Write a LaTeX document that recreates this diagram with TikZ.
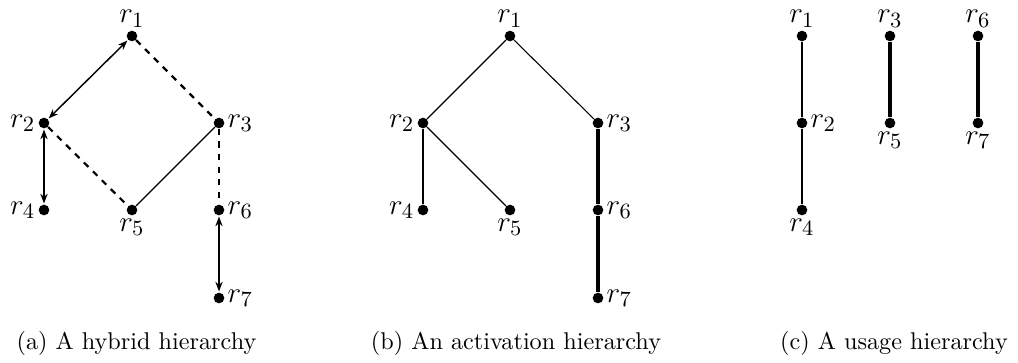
\documentclass[tikz,border=0pt]{standalone}
\usetikzlibrary{arrows.meta}
\begin{document}
\begin{tikzpicture}[x=0.413pt,y=-0.413pt,
  vtx/.style={circle,fill=black,inner sep=0pt,minimum size=4.4pt},
  every label/.style={inner sep=1pt,font=\fontsize{12.8}{15}\selectfont},
  label distance=0pt,
  thinedge/.style={line width=0.45pt},
  midedge/.style={line width=0.9pt},
  thickedge/.style={line width=1.5pt},
  dashedge/.style={line width=0.9pt,dash pattern=on 2.6pt off 2.6pt},
  dbl/.style={{Stealth[length=4pt,width=3pt]}-{Stealth[length=4pt,width=3pt]}, shorten <=0.3pt, shorten >=0.3pt},
  captext/.style={inner sep=0pt, anchor=base}]
\useasboundingbox (0,0) rectangle (1018,362);
% (a)
\node[vtx,label=above:$r_1$] (a1) at (132,36) {};
\node[vtx,label=left:$r_2$]  (a2) at (44,123) {};
\node[vtx,label=right:$r_3$] (a3) at (219,123) {};
\node[vtx,label=left:$r_4$]  (a4) at (44,210) {};
\node[vtx,label=below:$r_5$] (a5) at (132,210) {};
\node[vtx,label=right:$r_6$] (a6) at (219,210) {};
\node[vtx,label=right:$r_7$] (a7) at (219,298) {};
\draw[line width=0.6pt,dbl] (a1) -- (a2);
\draw[midedge,dbl] (a2) -- (a4);
\draw[line width=1.1pt,dbl] (a6) -- (a7);
\draw[dashedge] (a1) -- (a3);
\draw[dashedge] (a2) -- (a5);
\draw[dashedge] (a3) -- (a6);
\draw[thinedge] (a3) -- (a5);
\node[captext] (capa) at (136.5,349) {(a) A hybrid hierarchy};
% (b)
\node[vtx,label=above:$r_1$] (b1) at (510,36) {};
\node[vtx,label=left:$r_2$]  (b2) at (423,123) {};
\node[vtx,label=right:$r_3$] (b3) at (598,123) {};
\node[vtx,label=left:$r_4$]  (b4) at (423,210) {};
\node[vtx,label=below:$r_5$] (b5) at (510,210) {};
\node[vtx,label=right:$r_6$] (b6) at (598,210) {};
\node[vtx,label=right:$r_7$] (b7) at (598,298) {};
\draw[thinedge] (b1) -- (b2);
\draw[thinedge] (b1) -- (b3);
\draw[thinedge] (b2) -- (b5);
\draw[midedge] (b2) -- (b4);
\draw[thickedge] (b3) -- (b6) -- (b7);
\node[captext] (capb) at (516,349) {(b) An activation hierarchy};
% (c)
\node[vtx,label=above:$r_1$] (c1) at (802,36) {};
\node[vtx,label=right:$r_2$] (c2) at (802,123) {};
\node[vtx,label=below:$r_4$] (c4) at (802,210) {};
\node[vtx,label=above:$r_3$] (c3) at (890,36) {};
\node[vtx,label=below:$r_5$] (c5) at (890,123) {};
\node[vtx,label=above:$r_6$] (c6) at (978,36) {};
\node[vtx,label=below:$r_7$] (c7) at (978,123) {};
\draw[midedge] (c1) -- (c2) -- (c4);
\draw[line width=1.3pt] (c3) -- (c5);
\draw[line width=1.3pt] (c6) -- (c7);
\node[captext] (capc) at (894,349) {(c) A usage hierarchy};
\end{tikzpicture}
\end{document}
